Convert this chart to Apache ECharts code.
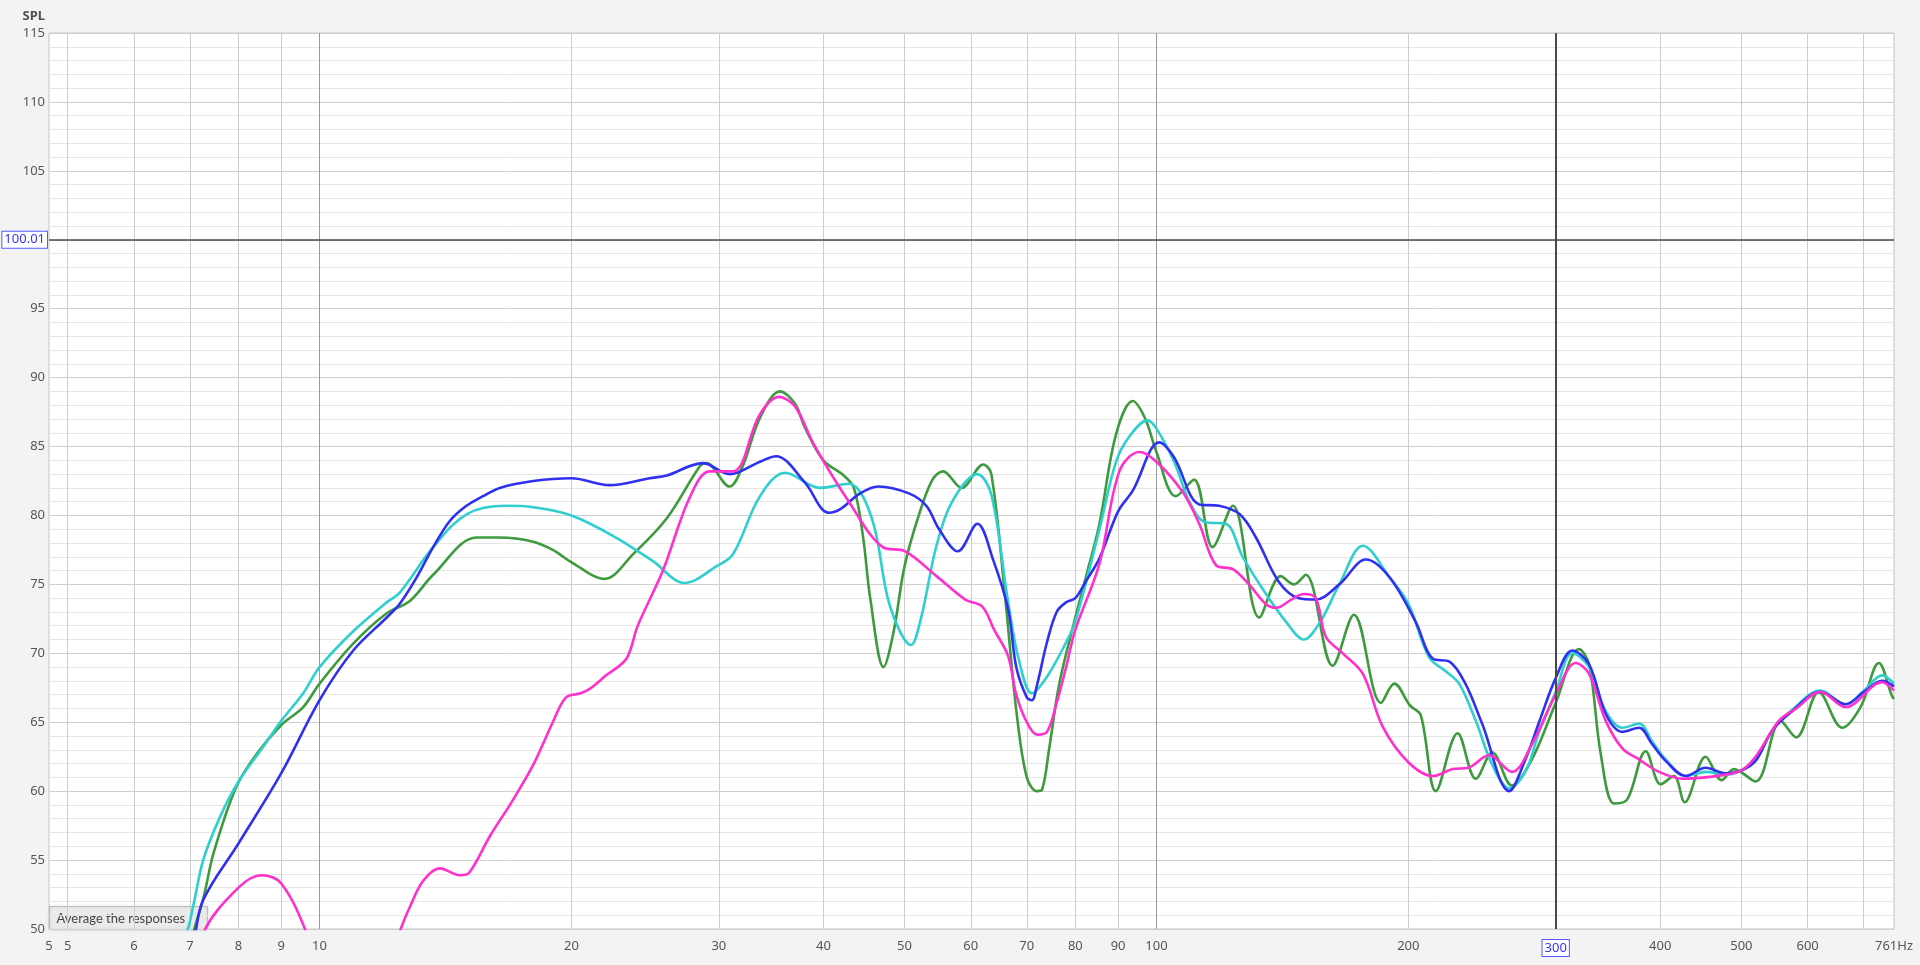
<!DOCTYPE html>
<html>
<head>
<meta charset="utf-8">
<script src="https://cdn.jsdelivr.net/npm/echarts@6/dist/echarts.min.js"></script>
<style>
html,body{margin:0;padding:0;background:#f3f3f3;}
#chart{width:1920px;height:965px;}
</style>
</head>
<body>
<div id="chart"></div>
<script>
// ---- data (frequency Hz, SPL dB) ----
const green = [[5,38],[6,44],[6.8,47.5],[7.23,51.8],[7.47,55.5],[7.95,60.3],[8.41,62.7],[9,64.8],[9.56,66.1],[10,67.8],[10.97,70.7],[12.03,72.9],[12.82,73.8],[13.67,75.7],[15.4,78.4],[16.4,78.4],[18,78.1],[19,77.5],[20,76.6],[21.9,75.4],[23.7,77.2],[26,79.8],[28.5,83.6],[29,83.8],[30.9,82.1],[32,83.5],[33.6,87.1],[35.5,89.0],[37,88.1],[38,86.4],[40,84.0],[42.3,82.9],[43.5,82.0],[44.6,78.5],[45.5,74.0],[47.2,69.0],[48.5,71.5],[50,76.3],[52,80.0],[54,82.6],[55.6,83.2],[58.5,82.0],[62.1,83.7],[63.5,83.0],[66,73.9],[68,65.9],[70,61.0],[72,60.0],[73,60.1],[74.5,63.2],[76.5,67.7],[80,72.6],[82.5,75.7],[85.5,79.4],[89.5,85.9],[93.7,88.3],[97,87.0],[100,84.6],[105.5,81.4],[110.9,82.6],[116.7,77.7],[123.4,80.7],[132.7,72.6],[140.8,75.6],[146,75.0],[150.8,75.7],[162.4,69.1],[172.2,72.8],[185.5,66.4],[192.4,67.8],[201,66.2],[207,65.5],[215.7,60.0],[229,64.2],[240.8,60.9],[252,62.8],[266,60.4],[281,62.3],[300,66.4],[319.9,70.3],[328.9,69.2],[339.6,62.7],[352.2,59.1],[365.3,59.4],[384.3,62.9],[400.5,60.5],[415.4,61.1],[427.8,59.2],[453.2,62.5],[473.6,60.8],[489.8,61.6],[520,60.7],[556.9,65.1],[581.5,63.9],[618.7,67.2],[659.6,64.6],[694,66.1],[729.9,69.3],[756.8,66.9],[761,66.7]];

const cyan = [[5,38],[6,44.5],[6.9,49.5],[7.07,51.8],[7.26,55.0],[7.6,58.1],[8,60.7],[8.56,63.2],[9,65.1],[9.56,67.1],[10,69.0],[10.97,71.6],[12.03,73.7],[12.47,74.4],[13.67,77.7],[15,80.1],[16.7,80.7],[18,80.6],[20,80.0],[22.6,78.4],[25,76.7],[27.3,75.1],[29.8,76.3],[31.2,77.2],[33.6,81.4],[36,83.1],[39.6,82.0],[42.9,82.3],[45.7,79.8],[48,73.5],[50.9,70.6],[52.3,72.5],[54.6,77.8],[57,81.0],[61.1,83.0],[63.5,81.5],[66.5,73.7],[68.5,69.5],[71,67.1],[74,68.3],[78,70.8],[80,72.3],[85.5,79.0],[89.5,83.9],[93,85.8],[97.6,86.9],[100,86.3],[105,83.9],[109.5,81.0],[114.5,79.5],[121,79.4],[126.8,77.0],[135.2,74.3],[142.8,72.3],[150,71.0],[157,72.3],[165.4,75.0],[176.5,77.8],[190,75.5],[200,73.6],[211.8,69.7],[221.7,68.7],[230,67.8],[240.8,65.1],[252,61.9],[264,60.2],[276.4,61.5],[286.6,64.3],[300,67.2],[314,70.0],[328.9,69.0],[344.3,65.8],[360.4,64.6],[377.3,64.9],[391.3,63.6],[406,62.3],[429,61.1],[453.2,61.4],[478.8,61.2],[500,61.5],[520,62.2],[544.3,64.4],[575,65.9],[621.6,67.3],[666,66.3],[700.6,67.3],[736.5,68.4],[761,67.8]];

const blue = [[5,36],[6,42],[7,48.5],[7.26,52.1],[8,56.2],[9,61.3],[10,66.6],[10.97,70.2],[12.03,72.6],[12.47,73.6],[13.06,75.5],[13.67,77.7],[14.31,79.6],[14.98,80.7],[15.68,81.4],[16.42,82.0],[18,82.5],[20,82.7],[22.2,82.2],[24.8,82.7],[26,82.9],[28.7,83.8],[30.9,83.0],[33.6,83.9],[35.1,84.3],[38,82.4],[40.6,80.2],[42,80.5],[44,81.5],[46.5,82.1],[50.6,81.6],[53.1,80.7],[55,79.0],[57.9,77.4],[61.1,79.4],[63.8,76.8],[66.5,73.2],[68,69.0],[70,66.8],[71,66.6],[72,67.7],[74,70.8],[76,73.0],[78,73.7],[80,74.0],[82.5,75.3],[85.5,76.9],[90,80.3],[93.7,81.8],[100.8,85.3],[105,84.2],[112.5,80.8],[118.8,80.7],[125.7,80.1],[131.5,78.4],[140,75.2],[148,74.0],[155,73.9],[165.4,75.0],[178,76.8],[190,75.5],[204,72.3],[214,69.6],[224,69.4],[234,67.8],[245,64.9],[264,60.0],[276,62.3],[286.6,65.0],[300,68.2],[314,70.2],[328.9,69.2],[344.3,65.6],[360.4,64.3],[377.3,64.6],[391.3,63.4],[406,62.2],[429,61.1],[453.2,61.7],[478.8,61.3],[500,61.5],[520,62.2],[544.3,64.4],[575,65.8],[621.6,67.2],[666,66.3],[700.6,67.2],[736.5,68.0],[761,67.6]];

const magenta = [[5,30],[7,45],[7.26,49.7],[8,53.0],[8.53,53.9],[9,53.3],[9.65,49.7],[10.5,43],[11.5,43],[12.47,49.8],[12.82,51.6],[13.3,53.5],[13.92,54.4],[14.71,53.9],[15.1,54.1],[16,56.8],[17,59.3],[18,61.9],[19,65.0],[19.7,66.8],[20.5,67.1],[21,67.4],[22,68.4],[23.26,69.6],[24,72.0],[25.72,76.0],[27.69,81.3],[29.25,83.2],[31.19,83.2],[33.56,87.3],[35.4,88.6],[37,87.9],[39,85.1],[42.9,81.0],[47.1,77.7],[50.1,77.4],[54.6,75.6],[59.1,73.9],[61.9,73.4],[64,71.7],[66.5,69.8],[68,67.0],[70,65.0],[72,64.1],[74,64.3],[76,66.4],[78,69.0],[80,71.7],[85.5,76.5],[90.3,83.2],[95.4,84.6],[100,83.9],[107.5,81.7],[112.5,79.4],[117.8,76.4],[123.4,76.1],[129,75.0],[135,73.6],[139,73.3],[145,73.9],[150,74.3],[155,74.0],[159.4,71.2],[167,70.0],[176.5,68.5],[186.3,64.7],[200,62.1],[214,61.1],[226,61.6],[236,61.7],[249.7,62.6],[266,61.4],[281,63.4],[300,67.0],[317,69.3],[328.9,68.5],[344.3,65.1],[360.4,63.1],[377.3,62.3],[398.7,61.4],[425,60.9],[453.2,61.0],[478.8,61.2],[500,61.5],[520,62.5],[554.5,65.1],[581.5,66.0],[621.6,67.2],[666,66.1],[736.5,67.9],[761,67.3]];

const gridHz = [5,6,7,8,9,10,20,30,40,50,60,70,80,90,100,200,300,400,500,600,700];
const labelHz = [4.75,5,6,7,8,9,10,20,30,40,50,60,70,80,90,100,200,300,400,500,600,761];
const xMinHz = 4.75, xMaxHz = 761;
const yMinDb = 50, yMaxDb = 115, yStepDb = 1, yLabelStep = 5;
const cursorHz = 300, cursorDb = 100.01;
const cursorDbLabel = '100.01';
const overlayText = 'Average the responses';

// ---- chart ----
const lg = Math.log10;
const font = '"Noto Sans", "Open Sans", sans-serif';
const gridColors = gridHz.map(f => Number.isInteger(lg(f)) ? '#9a9a9a' : '#cdcdcd');

const mkSeries = (name, data, color) => ({
  name, type: 'line', data, xAxisIndex: 0, yAxisIndex: 0,
  showSymbol: false, smooth: 0.35, z: 3, clip: true,
  lineStyle: {color, width: 2.6}, itemStyle: {color}
});

const chart = echarts.init(document.getElementById('chart'), null, {renderer: 'canvas'});
chart.setOption({
  animation: false,
  backgroundColor: '#f3f3f3',
  grid: {left: 49, right: 26, top: 33, bottom: 36, show: true,
         backgroundColor: '#ffffff', borderColor: '#c4c4c4', borderWidth: 1},
  xAxis: [
    {type: 'log', logBase: 10, min: xMinHz, max: xMaxHz, show: false},
    {type: 'value', position: 'bottom', min: lg(xMinHz), max: lg(xMaxHz),
     axisLine: {show: false},
     axisTick: {show: false, customValues: gridHz.map(lg)},
     splitLine: {show: true, lineStyle: {color: gridColors, width: 1}},
     axisLabel: {
       customValues: labelHz.map(lg), margin: 11, fontSize: 13, color: '#555', fontFamily: font,
       showMinLabel: true, showMaxLabel: true, hideOverlap: false,
       formatter: v => {
         const f = Math.round(Math.pow(10, v));
         if (f === Math.round(xMaxHz)) return f + 'Hz';
         if (f === cursorHz) return '{box|' + f + '}';
         return String(f);
       },
       rich: {box: {color: '#3535ff', borderColor: '#5a5aff', borderWidth: 1,
                    backgroundColor: '#fff', padding: [2, 2, 1, 2], fontSize: 13, fontFamily: font}}
     }}
  ],
  yAxis: {
    type: 'value', min: yMinDb, max: yMaxDb, interval: yStepDb,
    name: 'SPL', nameLocation: 'end', nameGap: 10,
    nameTextStyle: {fontSize: 13, fontWeight: 'bold', color: '#505050', align: 'right',
                    padding: [0, 4, 0, 0], fontFamily: font},
    axisLine: {show: false}, axisTick: {show: false},
    axisLabel: {margin: 4, fontSize: 13, color: '#555', fontFamily: font,
                formatter: v => (v % yLabelStep === 0 ? String(v) : '')},
    splitLine: {show: true, lineStyle: {color: ['#cfcfcf', '#e6e6e6', '#e6e6e6', '#e6e6e6', '#e6e6e6'], width: 1}}
  },
  series: [
    {type: 'line', data: [], xAxisIndex: 0, yAxisIndex: 0, z: 2,
     markLine: {silent: true, symbol: ['none', 'none'], animation: false,
       data: [
         {xAxis: cursorHz, lineStyle: {color: '#4a4a4a', width: 2, type: 'solid'}, label: {show: false}},
         {yAxis: cursorDb, lineStyle: {color: '#4a4a4a', width: 1.5, type: 'solid'},
          label: {show: true, position: 'start', distance: 2, formatter: cursorDbLabel,
                  color: '#3535ff', borderColor: '#5a5aff', borderWidth: 1, backgroundColor: '#fff',
                  padding: [2, 2, 1, 2], fontSize: 13, fontFamily: font}}
       ]}},
    mkSeries('Green', green, '#3d9a3d'),
    mkSeries('Cyan', cyan, '#30cfcf'),
    mkSeries('Blue', blue, '#3030f2'),
    mkSeries('Magenta', magenta, '#ff30cc')
  ],
  graphic: [{
    type: 'group', left: 49, top: 906, z: 100,
    children: [
      {type: 'rect', shape: {x: 0, y: 0, width: 158, height: 23},
       style: {fill: '#ebebeb', stroke: '#bdbdbd', lineWidth: 1, shadowBlur: 3, shadowColor: 'rgba(0,0,0,0.15)'}},
      {type: 'text', x: 7, y: 12,
       style: {text: overlayText, fill: '#444', font: '13px Lato, "Noto Sans", sans-serif', verticalAlign: 'middle'}}
    ]
  }]
});
</script>
</body>
</html>
